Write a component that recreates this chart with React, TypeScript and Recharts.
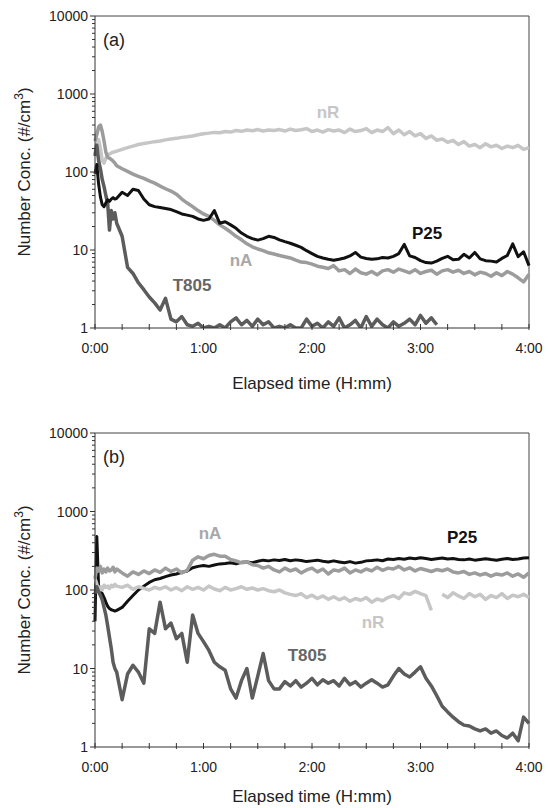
import React from 'react';
import { LineChart, Line, XAxis, YAxis, ReferenceLine } from 'recharts';

// elapsed time in minutes (shared by both panels)
const minutes = [
  0, 1, 2, 3, 4, 5, 6, 7, 8, 9, 10, 11,
  12, 15, 18, 21, 24, 27, 30, 33, 36, 39,
  42, 45, 48, 51, 54, 57, 60, 63, 66, 69,
  72, 75, 78, 81, 84, 87, 90, 93, 96, 99,
  102, 105, 108, 111, 114, 117, 120, 123, 126, 129,
  132, 135, 138, 141, 144, 147, 150, 153, 156, 159,
  162, 165, 168, 171, 174, 177, 180, 183, 186, 189,
  192, 195, 198, 201, 204, 207, 210, 213, 216, 219,
  222, 225, 228, 231, 234, 237, 240,
];

// panel (a)
const aP25 = [
  95, 125, 70, 48, 38, 36, 40, 44, 42, 45, 47, 45,
  46, 55, 50, 60, 58, 45, 38, 36, 35, 34,
  33, 31, 29, 28, 27, 25, 24, 25, 32, 22,
  23, 21, 19, 16.5, 15, 14, 13.4, 14, 15, 14.5,
  13.5, 12.8, 12.2, 11.5, 10.8, 9.8, 9.0, 8.3, 7.9, 7.6,
  7.4, 7.6, 7.9, 8.4, 9.3, 8.1, 7.8, 7.6, 7.7, 8,
  7.9, 8.3, 9, 11.8, 8.4, 8, 7.3, 6.9, 6.8, 7.2,
  7.8, 8.3, 7.5, 7.6, 8.8, 7.9, 9.3, 7.7, 7.3, 7.2,
  7.0, 7.8, 8.5, 12, 8.2, 9.5, 6.3,
];
const aNA = [
  250, 300, 380, 400, 330, 250, 180, 155, 150, 145, 138, 130,
  120, 110, 102, 94, 88, 83, 77, 72, 66, 61,
  57, 52, 45, 40, 36, 32, 29, 27, 24, 21,
  19, 17, 15, 13.5, 12, 11, 10.3, 9.8, 9.2, 8.9,
  8.5, 8.2, 7.9, 7.4, 7.0, 6.9, 6.6, 6.2, 6.0, 5.8,
  6.3, 5.4, 5.6, 5.0, 5.7, 5.1, 4.9, 5.3, 4.8, 5.4,
  5.6, 5.2, 5.7, 5.4, 5.1, 5.6, 5.0, 5.3, 5.5, 4.9,
  5.4, 5.6, 5.2, 5.5, 5.0, 5.3, 4.8, 5.2, 5.0, 4.6,
  5.1, 4.7, 5.3, 4.9, 4.4, 3.9, 4.9,
];
const aNR = [
  170, 230, 260, 200, 140, 130, 150, 165, 170, 175, 180, 182,
  185, 195, 205, 215, 225, 232, 238, 245, 250, 258,
  265, 270, 278, 283, 290, 300, 310, 315, 322, 318,
  330, 325, 340, 332, 345, 338, 350, 335, 345, 340,
  350, 335, 355, 340, 348, 360, 330, 345, 325, 350,
  335, 345, 320, 355, 330, 340, 360, 320, 345, 330,
  370, 310, 345, 300, 330, 290, 310, 270, 290, 255,
  265, 240, 255, 225, 245, 215, 225, 205, 230, 210,
  220, 200, 215, 205, 220, 195, 205,
];
const aT805 = [
  160, 220, 140, 110, 80, 65, 50, 40, 18, 32, 25, 30,
  22, 15, 6, 5, 3.8, 3.1, 2.5, 2.1, 1.7, 2.4,
  1.3, 1.2, 1.4, 1.1, 1.05, 1.15, 1.0, 1.05, 1.0, 1.1,
  1.0, 1.2, 1.35, 1.1, 1.25, 1.05, 1.3, 1.1, 1.2, 1.0,
  1.05, 1.0, 1.1, 1.0, 1.0, 1.3, 1.05, 1.15, 1.0, 1.2,
  1.05, 1.35, 1.0, 1.1, 1.25, 1.0, 1.4, 1.05, 1.3, 1.1,
  1.0, 1.2, 1.05, 1.15, 1.3, 1.1, 1.45, 1.15, 1.35, 1.1,
  null, null, null, null, null, null, null, null, null, null,
  null, null, null, null, null, null, null,
];

// panel (b)
const bP25 = [
  40, 480, 110, 95, 90, 80, 70, 62, 58, 56, 55, 54,
  55, 60, 72, 85, 100, 112, 125, 135, 140, 148,
  155, 160, 168, 175, 192, 200, 205, 200, 208, 215,
  218, 222, 215, 225, 228, 222, 232, 240, 235, 242,
  238, 245, 236, 242, 238, 230, 235, 240, 232, 228,
  235, 228, 222, 230, 220, 225, 235, 238, 242, 236,
  248, 245, 252, 246, 255, 250, 258, 252, 245, 250,
  255, 248, 252, 245, 242, 248, 240, 245, 250, 244,
  240, 246, 252, 245, 248, 255, 258,
];
const bNA = [
  140, 190, 175, 200, 165, 185, 170, 190, 175, 180, 195, 170,
  185, 165, 150, 170, 158, 175, 162, 180, 168, 190,
  172, 185, 165, 178, 240, 265, 250, 275, 285, 270,
  270, 245, 235, 222, 228, 210, 205, 190, 200, 180,
  170, 190, 175, 185, 165, 180, 190, 170, 185, 160,
  180, 175, 190, 165, 180, 170, 185, 175, 195, 178,
  190, 185, 200, 180, 192, 175, 188, 180, 172, 182,
  176, 185, 170, 165, 172, 158, 165, 155, 162, 150,
  160, 155, 165, 150, 160, 145, 165,
];
const bNR = [
  140, 120, 95, 110, 100, 115, 108, 112, 104, 115, 110, 118,
  112, 108, 115, 102, 110, 105, 100, 108, 103, 110,
  100, 107, 98, 110, 102, 108, 100, 112, 103, 98,
  108, 100, 104, 110, 102, 106, 100, 104, 98, 95,
  100, 92, 88, 85, 90, 80, 86, 78, 84, 76,
  82, 75, 80, 72, 78, 74, 80, 70, 77, 73,
  80, 85, 78, 92, 88, 96, 90, 85, 55, null,
  88, 80, 92, 84, 78, 90, 82, 88, 76, 85,
  80, 90, 78, 86, 82, 88, 80,
];
const bT805 = [
  90, 110, 95, 85, 75, 60, 48, 35, 25, 18, 12, 10,
  9, 4, 8.5, 11, 9, 6.5, 32, 28, 70, 32,
  38, 24, 28, 12, 48, 28, 22, 17, 12, 10.5,
  9.5, 5.5, 4.2, 7, 10, 4.2, 8, 15.5, 7, 5.5,
  5.5, 6.8, 6, 7, 5.8, 6.5, 7.5, 6.2, 7.2, 6.5,
  7, 6, 7.5, 6.2, 6.8, 5.8, 6.5, 7.2, 6.5, 5.8,
  6.2, 8, 10, 8.5, 7.8, 9, 10.5, 7.5, 6, 4.5,
  3.3, 2.8, 2.4, 2.1, 1.9, 1.85, 1.7, 1.6, 1.7, 1.5,
  1.6, 1.4, 1.3, 1.5, 1.2, 2.4, 2.0,
];

const xTicks = [0, 15, 30, 45, 60, 75, 90, 105, 120, 135, 150, 165, 180, 195, 210, 225, 240];
const decades = [1, 10, 100, 1000];
const yTicks = [...decades.flatMap((d) => [1, 2, 3, 4, 5, 6, 7, 8, 9].map((m) => m * d)), 10000];

const FONT = '"Liberation Sans", Arial, sans-serif';
const COLORS = { P25: '#111111', nA: '#9c9c9c', nR: '#c6c6c6', T805: '#5c5c5c' };

const toRows = (p25: any[], na: any[], nr: any[], t805: any[]) =>
  minutes.map((t, i) => ({ t, P25: p25[i], nA: na[i], nR: nr[i], T805: t805[i] }));

const dataA = toRows(aP25, aNA, aNR, aT805);
const dataB = toRows(bP25, bNA, bNR, bT805);

const YTick = (props: any) => {
  const { x, y, payload } = props;
  const v = payload.value;
  const lg = Math.log10(v);
  const major = Math.abs(lg - Math.round(lg)) < 1e-6;
  return (
    <g>
      <line x1={x} x2={x - (major ? 5 : 3)} y1={y} y2={y} stroke="#333" />
      {major && (
        <text x={x - 7} y={y} dy={5} textAnchor="end" fontSize={14} fill="#222" fontFamily={FONT}>
          {v}
        </text>
      )}
    </g>
  );
};

const XTick = (props: any) => {
  const { x, y, payload } = props;
  const v = payload.value;
  return (
    <g>
      <line x1={x} x2={x} y1={y - 4} y2={y + 2} stroke="#333" />
      {v % 60 === 0 && (
        <text x={x} y={y + 25} textAnchor="middle" fontSize={14} fill="#222" fontFamily={FONT}>
          {`${v / 60}:00`}
        </text>
      )}
    </g>
  );
};

function Panel({ data, order, top, bottom }: { data: any[]; order: string[]; top: number; bottom: number }) {
  return (
    <LineChart width={550} height={404} data={data} margin={{ top, right: 21, bottom, left: 35 }}>
      <XAxis
        dataKey="t"
        type="number"
        domain={[0, 240]}
        ticks={xTicks}
        interval={0}
        tick={<XTick />}
        tickLine={false}
        tickSize={0}
        tickMargin={0}
        height={30}
        axisLine={{ stroke: '#333' }}
      />
      <YAxis
        type="number"
        scale="log"
        domain={[1, 10000]}
        allowDataOverflow
        ticks={yTicks}
        interval={0}
        tick={<YTick />}
        tickLine={false}
        tickSize={0}
        tickMargin={0}
        width={60}
        axisLine={{ stroke: '#333' }}
      />
      <ReferenceLine y={10000} stroke="#444" />
      <ReferenceLine x={240} stroke="#444" />
      {order.map((k) => (
        <Line
          key={k}
          dataKey={k}
          type="linear"
          stroke={(COLORS as any)[k]}
          strokeWidth={k === 'P25' ? 3 : 3.5}
          strokeLinejoin="round"
          dot={false}
          isAnimationActive={false}
        />
      ))}
    </LineChart>
  );
}

const lbl = (x: number, y: number, text: string, color: string) => (
  <text x={x} y={y} textAnchor="middle" fontSize={17} fontWeight="bold" fill={color} fontFamily={FONT}>
    {text}
  </text>
);

function YTitle({ cy }: { cy: number }) {
  return (
    <text
      transform={`translate(30, ${cy}) rotate(-90)`}
      textAnchor="middle"
      fontSize={17}
      fill="#222"
      fontFamily={FONT}
    >
      Number Conc. (#/cm<tspan dy={-7} fontSize={12}>3</tspan>
      <tspan dy={7}>)</tspan>
    </text>
  );
}

export default function App() {
  return (
    <div style={{ position: 'absolute', left: 0, top: 0, width: 550, height: 808, background: '#fff' }}>
      <Panel data={dataA} order={['nR', 'nA', 'T805', 'P25']} top={16} bottom={46} />
      <Panel data={dataB} order={['P25', 'nR', 'nA', 'T805']} top={29} bottom={31} />
      <svg width={550} height={808} style={{ position: 'absolute', left: 0, top: 0, pointerEvents: 'none' }}>
        <text x={103} y={46} fontSize={18} fill="#222" fontFamily={FONT}>(a)</text>
        <text x={103} y={463} fontSize={18} fill="#222" fontFamily={FONT}>(b)</text>
        <YTitle cy={172} />
        <YTitle cy={590} />
        <text x={312} y={389} textAnchor="middle" fontSize={17} fill="#222" fontFamily={FONT}>Elapsed time (H:mm)</text>
        <text x={312} y={802} textAnchor="middle" fontSize={17} fill="#222" fontFamily={FONT}>Elapsed time (H:mm)</text>
        {lbl(328, 118, 'nR', COLORS.nR)}
        {lbl(427, 239, 'P25', COLORS.P25)}
        {lbl(241, 266, 'nA', '#a8a8a8')}
        {lbl(192, 291, 'T805', '#666666')}
        {lbl(210, 539, 'nA', '#a8a8a8')}
        {lbl(462, 543, 'P25', COLORS.P25)}
        {lbl(373, 628, 'nR', COLORS.nR)}
        {lbl(307, 661, 'T805', '#666666')}
      </svg>
    </div>
  );
}
